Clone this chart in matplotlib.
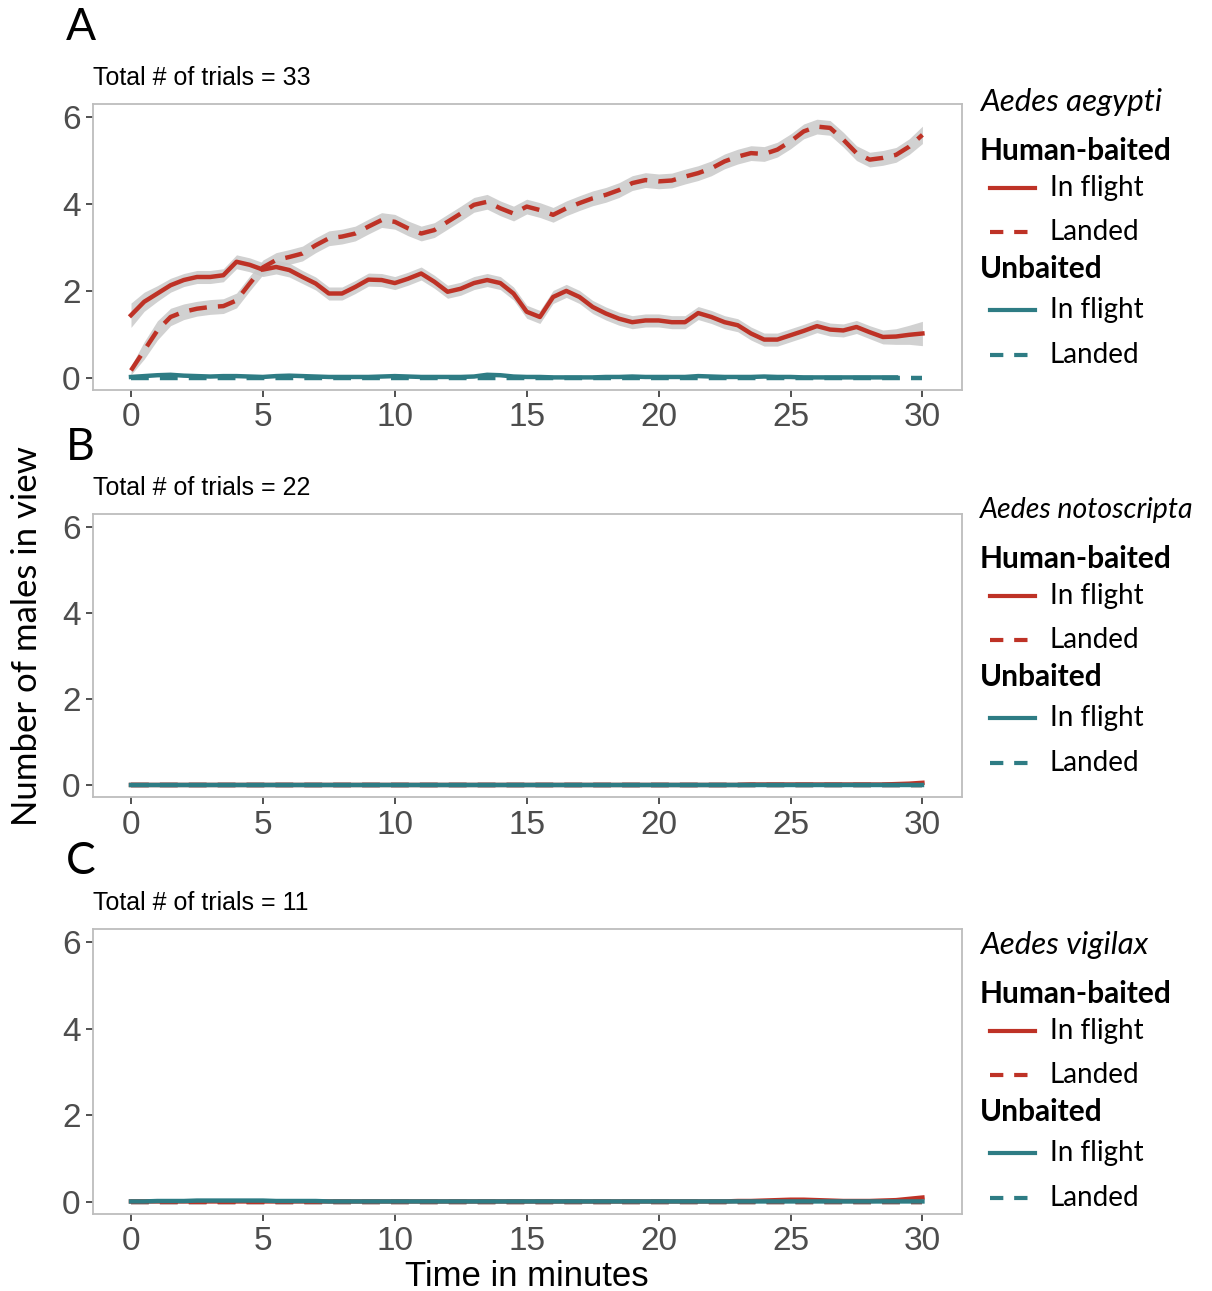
import numpy as np
import matplotlib
matplotlib.use("Agg")
import matplotlib.pyplot as plt

W, H = 1212, 1291

RED = "#BE3226"
TEAL = "#2E7C84"
RIBBON = "#C9C9C9"

# time axis, sampled every half minute
minutes = np.arange(0, 30.5, 0.5)

# --- panel A: Aedes aegypti ---
a_hb_flight = [1.44, 1.75, 1.94, 2.13, 2.25, 2.32, 2.32, 2.36, 2.67, 2.60,
               2.49, 2.55, 2.48, 2.32, 2.17, 1.94, 1.94, 2.09, 2.26, 2.25,
               2.18, 2.28, 2.40, 2.21, 1.98, 2.05, 2.18, 2.25, 2.18, 1.94,
               1.52, 1.40, 1.86, 2.00, 1.86, 1.63, 1.48, 1.36, 1.28, 1.32,
               1.32, 1.28, 1.28, 1.49, 1.40, 1.28, 1.21, 1.02, 0.88, 0.88,
               0.98, 1.08, 1.19, 1.11, 1.09, 1.17, 1.05, 0.94, 0.95, 0.99,
               1.02]
a_hb_flight_se = [0.28, 0.22, 0.18, 0.16, 0.15, 0.15, 0.15, 0.15, 0.16, 0.16,
                  0.16, 0.16, 0.16, 0.15, 0.15, 0.15, 0.15, 0.15, 0.15, 0.15,
                  0.15, 0.15, 0.15, 0.15, 0.15, 0.15, 0.15, 0.15, 0.15, 0.15,
                  0.15, 0.15, 0.15, 0.15, 0.15, 0.15, 0.15, 0.15, 0.15, 0.15,
                  0.15, 0.15, 0.15, 0.15, 0.15, 0.15, 0.15, 0.15, 0.15, 0.15,
                  0.15, 0.15, 0.15, 0.15, 0.15, 0.15, 0.15, 0.16, 0.18, 0.22,
                  0.28]
a_hb_landed = [0.17, 0.63, 1.09, 1.40, 1.52, 1.59, 1.63, 1.65, 1.78, 2.17,
               2.54, 2.71, 2.78, 2.86, 3.05, 3.21, 3.25, 3.32, 3.48, 3.63,
               3.59, 3.44, 3.32, 3.40, 3.59, 3.78, 3.98, 4.05, 3.90, 3.78,
               3.94, 3.86, 3.75, 3.90, 4.02, 4.13, 4.21, 4.32, 4.48, 4.55,
               4.52, 4.54, 4.63, 4.71, 4.82, 4.98, 5.09, 5.17, 5.15, 5.25,
               5.44, 5.67, 5.78, 5.75, 5.48, 5.17, 5.02, 5.06, 5.13, 5.32,
               5.59]
a_hb_landed_se = [0.10, 0.20, 0.22, 0.20, 0.18, 0.17, 0.17, 0.17, 0.17, 0.17,
                  0.17, 0.17, 0.17, 0.17, 0.17, 0.17, 0.17, 0.17, 0.17, 0.17,
                  0.17, 0.17, 0.17, 0.17, 0.17, 0.17, 0.17, 0.17, 0.17, 0.17,
                  0.17, 0.17, 0.17, 0.17, 0.17, 0.17, 0.17, 0.17, 0.17, 0.17,
                  0.17, 0.17, 0.17, 0.17, 0.17, 0.17, 0.17, 0.17, 0.17, 0.17,
                  0.17, 0.17, 0.17, 0.17, 0.17, 0.17, 0.17, 0.17, 0.17, 0.18,
                  0.20]
a_ub_flight = [0.02, 0.04, 0.06, 0.07, 0.05, 0.04, 0.03, 0.04, 0.04, 0.03,
               0.02, 0.04, 0.05, 0.04, 0.03, 0.02, 0.02, 0.02, 0.02, 0.03,
               0.04, 0.03, 0.02, 0.02, 0.02, 0.02, 0.03, 0.07, 0.06, 0.03,
               0.02, 0.02, 0.01, 0.01, 0.01, 0.01, 0.02, 0.02, 0.03, 0.02,
               0.02, 0.02, 0.02, 0.04, 0.03, 0.02, 0.02, 0.02, 0.03, 0.02,
               0.02, 0.01, 0.01, 0.01, 0.01, 0.01, 0.01, 0.01, 0.01, np.nan,
               np.nan]
a_ub_landed = [0.0, 0.0, 0.0, 0.0, 0.0, 0.0, 0.0, 0.0, 0.0, 0.0,
               0.0, 0.0, 0.0, 0.0, 0.0, 0.0, 0.0, 0.0, 0.0, 0.0,
               0.0, 0.0, 0.0, 0.0, 0.0, 0.0, 0.0, 0.0, 0.0, 0.0,
               0.0, 0.0, 0.0, 0.0, 0.0, 0.0, 0.0, 0.0, 0.0, 0.0,
               0.0, 0.0, 0.0, 0.0, 0.0, 0.0, 0.0, 0.0, 0.0, 0.0,
               0.0, 0.0, 0.0, 0.0, 0.0, 0.0, 0.0, 0.0, 0.0, 0.0,
               0.0]

# --- panel B: Aedes notoscripta (basically nothing happens) ---
b_hb_flight = [0.0, 0.0, 0.0, 0.0, 0.0, 0.0, 0.0, 0.0, 0.0, 0.0,
               0.0, 0.0, 0.0, 0.0, 0.0, 0.0, 0.0, 0.0, 0.0, 0.0,
               0.0, 0.0, 0.0, 0.0, 0.0, 0.0, 0.0, 0.0, 0.0, 0.0,
               0.0, 0.0, 0.0, 0.0, 0.0, 0.0, 0.0, 0.0, 0.0, 0.0,
               0.0, 0.0, 0.0, 0.0, 0.0, 0.0, 0.0, 0.01, 0.01, 0.01,
               0.01, 0.01, 0.01, 0.01, 0.01, 0.01, 0.01, 0.01, 0.02, 0.03,
               0.05]
b_hb_landed = a_ub_landed
b_ub_flight = a_ub_landed
b_ub_landed = a_ub_landed

# --- panel C: Aedes vigilax ---
c_hb_flight = [0.01, 0.01, 0.01, 0.01, 0.01, 0.01, 0.01, 0.01, 0.01, 0.01,
               0.01, 0.01, 0.01, 0.01, 0.01, 0.01, 0.01, 0.01, 0.01, 0.01,
               0.01, 0.01, 0.01, 0.01, 0.01, 0.01, 0.01, 0.01, 0.01, 0.01,
               0.01, 0.01, 0.01, 0.01, 0.01, 0.01, 0.01, 0.01, 0.01, 0.01,
               0.01, 0.01, 0.01, 0.01, 0.01, 0.01, 0.02, 0.02, 0.03, 0.04,
               0.05, 0.05, 0.04, 0.03, 0.02, 0.02, 0.02, 0.03, 0.04, 0.07,
               0.10]
c_hb_landed = a_ub_landed
c_ub_flight = [0.01, 0.01, 0.02, 0.02, 0.02, 0.03, 0.03, 0.03, 0.03, 0.03,
               0.03, 0.02, 0.02, 0.02, 0.02, 0.01, 0.01, 0.01, 0.01, 0.01,
               0.01, 0.01, 0.01, 0.01, 0.01, 0.01, 0.01, 0.01, 0.01, 0.01,
               0.01, 0.01, 0.01, 0.01, 0.01, 0.01, 0.01, 0.01, 0.01, 0.01,
               0.01, 0.01, 0.01, 0.01, 0.01, 0.01, 0.01, 0.01, 0.01, 0.01,
               0.01, 0.01, 0.01, 0.01, 0.01, 0.01, 0.01, 0.01, 0.01, 0.01,
               0.01]
c_ub_landed = a_ub_landed

panel_letters = ["A", "B", "C"]
species = ["Aedes aegypti", "Aedes notoscripta", "Aedes vigilax"]
species_size = [22.5, 20.5, 22.5]   # B is long, shrunk a bit so it stays on the page
trials = [33, 22, 11]
x_ticks = [0, 5, 10, 15, 20, 25, 30]
y_ticks = [0, 2, 4, 6]

LEG_FONT = ["Lato", "DejaVu Sans"]
AX_FONT = ["Liberation Sans", "DejaVu Sans"]

fig = plt.figure(figsize=(W / 100, H / 100), dpi=100)
fig.patch.set_facecolor("white")


def px_axes(l, t, r, b):
    return fig.add_axes([l / W, 1 - b / H, (r - l) / W, (b - t) / H])


def fig_text(x, y, s, **kw):
    return fig.text(x / W, 1 - y / H, s, **kw)


# pixel boxes of the three panels (left, top, right, bottom)
boxes = [(93, 104, 962, 390), (93, 514, 962, 797), (93, 929, 962, 1214)]
letter_y = [28, 448, 862]
trials_y = [78, 488, 903]
legend_y = [102, 510, 945]

panel_data = [
    (a_hb_flight, a_hb_landed, a_ub_flight, a_ub_landed, a_hb_flight_se, a_hb_landed_se),
    (b_hb_flight, b_hb_landed, b_ub_flight, b_ub_landed, None, None),
    (c_hb_flight, c_hb_landed, c_ub_flight, c_ub_landed, None, None),
]

for i, box in enumerate(boxes):
    ax = px_axes(*box)
    hb_f, hb_l, ub_f, ub_l, se_f, se_l = panel_data[i]
    hb_f, hb_l = np.array(hb_f), np.array(hb_l)

    if se_f is not None:
        ax.fill_between(minutes, hb_f - np.array(se_f), hb_f + np.array(se_f),
                        color=RIBBON, alpha=0.85, lw=0, zorder=1)
        ax.fill_between(minutes, hb_l - np.array(se_l), hb_l + np.array(se_l),
                        color=RIBBON, alpha=0.85, lw=0, zorder=1)

    ax.plot(minutes, ub_l, color=TEAL, lw=3.2, dashes=(4, 2.5), zorder=3)
    ax.plot(minutes, hb_l, color=RED, lw=3.2, dashes=(4, 2.5), zorder=3)
    ax.plot(minutes, hb_f, color=RED, lw=3.2, zorder=3)
    ax.plot(minutes, ub_f, color=TEAL, lw=3.2, zorder=4)

    ax.set_xlim(-1.44, 31.5)
    ax.set_ylim(-0.28, 6.3)
    ax.set_xticks(x_ticks)
    ax.set_yticks(y_ticks)
    ax.tick_params(axis="both", colors="#333333", length=5, width=1.2,
                   labelsize=24, labelcolor="#4D4D4D", pad=4)
    for lab in ax.get_xticklabels() + ax.get_yticklabels():
        lab.set_family(AX_FONT)
    for sp in ax.spines.values():
        sp.set_color("#BDBDBD")
        sp.set_linewidth(1.3)

    fig_text(66, letter_y[i], panel_letters[i], fontsize=32, family=LEG_FONT,
             va="center", ha="left")
    fig_text(93, trials_y[i], f"Total # of trials = {trials[i]}", fontsize=18,
             family=AX_FONT, va="center", ha="left")

    # hand-built legend on the right
    y0 = legend_y[i]
    fig_text(980, y0, species[i], fontsize=species_size[i], style="italic",
             family=LEG_FONT, va="center", ha="left")
    fig_text(980, y0 + 49, "Human-baited", fontsize=21.5, weight="bold",
             family=LEG_FONT, va="center", ha="left")
    fig_text(980, y0 + 167, "Unbaited", fontsize=21.5, weight="bold",
             family=LEG_FONT, va="center", ha="left")
    rows = [(86, RED, "-"), (130, RED, "--"), (208, TEAL, "-"), (253, TEAL, "--")]
    for off, col, ls in rows:
        yy = 1 - (y0 + off) / H
        line = plt.Line2D([990 / W, 1035 / W], [yy, yy], color=col, lw=3,
                          transform=fig.transFigure)
        if ls == "--":
            line.set_dashes((3.2, 2.6))
        fig.add_artist(line)
        fig_text(1050, y0 + off, "In flight" if ls == "-" else "Landed",
                 fontsize=20, family=LEG_FONT, va="center", ha="left")

fig_text(27, 636, "Number of males in view", fontsize=25, family=LEG_FONT,
         rotation=90, va="center", ha="center")
fig_text(527, 1277, "Time in minutes", fontsize=25, family=AX_FONT,
         va="center", ha="center")

fig.savefig("out.png", dpi=100)
